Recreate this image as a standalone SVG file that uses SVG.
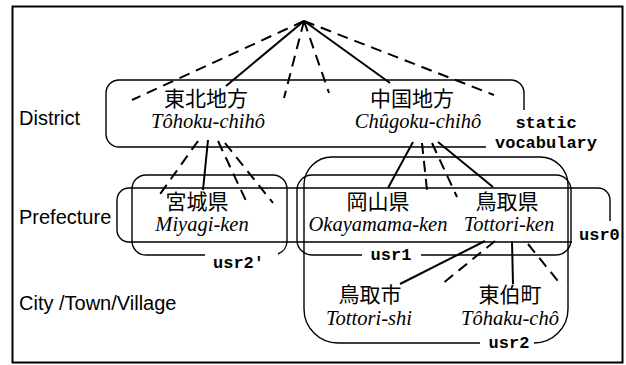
<svg xmlns="http://www.w3.org/2000/svg" width="626" height="365" viewBox="0 0 626 365">
<style>
.jp{font-family:"Noto Sans CJK JP","Noto Sans CJK SC",sans-serif;font-size:21px;text-anchor:middle;fill:#000}
.ro{font-family:"Liberation Serif",serif;font-style:italic;font-size:20.5px;text-anchor:middle;fill:#000}
.lab{font-family:"Liberation Sans",Arial,sans-serif;font-size:20px;fill:#000}
.mono{font-family:"Liberation Mono",monospace;font-size:17px;font-weight:bold;fill:#000}
.box{fill:none;stroke:#000;stroke-width:1.4}
.solid{fill:none;stroke:#000;stroke-width:2}
.dash{fill:none;stroke:#000;stroke-width:2;stroke-dasharray:11 7}
</style>
<rect width="626" height="365" fill="#fff"/>
<rect id="frame" x="12.5" y="6.5" width="610" height="356" fill="none" stroke="#000" stroke-width="2"/>

<g id="level-labels">
<text class="lab" x="19" y="125">District</text>
<text class="lab" x="19" y="224">Prefecture</text>
<text class="lab" x="19" y="310">City /Town/Village</text>
</g>

<g id="static-vocabulary">
<path class="box" d="M486 147 H119 A13 13 0 0 1 106 134 V93 A13 13 0 0 1 119 80 H511 A13 13 0 0 1 524 93 V110"/>
<text class="mono" x="546" y="128" text-anchor="middle">static</text>
<text class="mono" x="546" y="148" text-anchor="middle">vocabulary</text>
</g>

<g id="usr0">
<path class="box" d="M572 242 H129 A12 12 0 0 1 117 230 V200 A12 12 0 0 1 129 188 H598 A12 12 0 0 1 610 200 V221"/>
<text class="mono" x="579" y="240">usr0</text>
</g>
<g id="usr2-prime">
<path class="box" d="M205 255 H146 A14 14 0 0 1 132 241 V189 A14 14 0 0 1 146 175 H273 A14 14 0 0 1 287 189 V241 A14 14 0 0 1 278 254"/>
<text class="mono" x="213" y="268">usr2'</text>
</g>
<g id="usr1">
<path class="box" d="M362 255 H312 A15 15 0 0 1 297 240 V190 A15 15 0 0 1 312 175 H556 A15 15 0 0 1 571 190 V240 A15 15 0 0 1 556 255 H421"/>
<text class="mono" x="391" y="260" text-anchor="middle">usr1</text>
</g>
<g id="usr2">
<path class="box" d="M480 343 H338 A34 34 0 0 1 304 309 V185 A28 28 0 0 1 332 157 H540 A28 28 0 0 1 568 185 V309 A34 34 0 0 1 534 343"/>
<text class="mono" x="509" y="348" text-anchor="middle">usr2</text>
</g>

<g id="connectors">
<line class="dash" x1="304" y1="21" x2="132" y2="100"/>
<line class="solid" x1="304" y1="21" x2="226" y2="86"/>
<line class="dash" x1="304" y1="21" x2="284" y2="98"/>
<line class="dash" x1="304" y1="21" x2="329" y2="93"/>
<line class="solid" x1="304" y1="21" x2="390" y2="83"/>
<line class="dash" x1="304" y1="21" x2="494" y2="95"/>

<line class="dash" x1="198" y1="141" x2="158" y2="197"/>
<line class="solid" x1="208" y1="140" x2="203" y2="190"/>
<line class="dash" x1="218" y1="141" x2="248" y2="205"/>
<line class="dash" x1="225" y1="143" x2="273" y2="203"/>

<line class="solid" x1="413" y1="142" x2="388" y2="188"/>
<line class="dash" x1="422" y1="143" x2="427" y2="190"/>
<line class="dash" x1="432" y1="143" x2="457" y2="197"/>
<line class="solid" x1="438" y1="142" x2="493" y2="187"/>

<line class="solid" x1="485" y1="241" x2="400" y2="284"/>
<line class="dash" x1="495" y1="241" x2="442" y2="284"/>
<line class="solid" x1="512" y1="241" x2="513" y2="284"/>
<line class="dash" x1="528" y1="244" x2="562" y2="286"/>
</g>

<g id="tohoku">
<text class="jp" x="206" y="106">東北地方</text>
<text class="ro" x="208" y="128">Tôhoku-chihô</text>
</g>
<g id="chugoku">
<text class="jp" x="412" y="106">中国地方</text>
<text class="ro" x="418" y="128">Chûgoku-chihô</text>
</g>
<g id="miyagi">
<text class="jp" x="197" y="209">宮城県</text>
<text class="ro" x="202" y="231">Miyagi-ken</text>
</g>
<g id="okayama">
<text class="jp" x="378" y="209">岡山県</text>
<text class="ro" x="378" y="231">Okayamama-ken</text>
</g>
<g id="tottori">
<text class="jp" x="507" y="209">鳥取県</text>
<text class="ro" x="509" y="231">Tottori-ken</text>
</g>
<g id="tottori-shi">
<text class="jp" x="370" y="302">鳥取市</text>
<text class="ro" x="369" y="325">Tottori-shi</text>
</g>
<g id="tohaku">
<text class="jp" x="510" y="302">東伯町</text>
<text class="ro" x="510" y="325">Tôhaku-chô</text>
</g>
</svg>
